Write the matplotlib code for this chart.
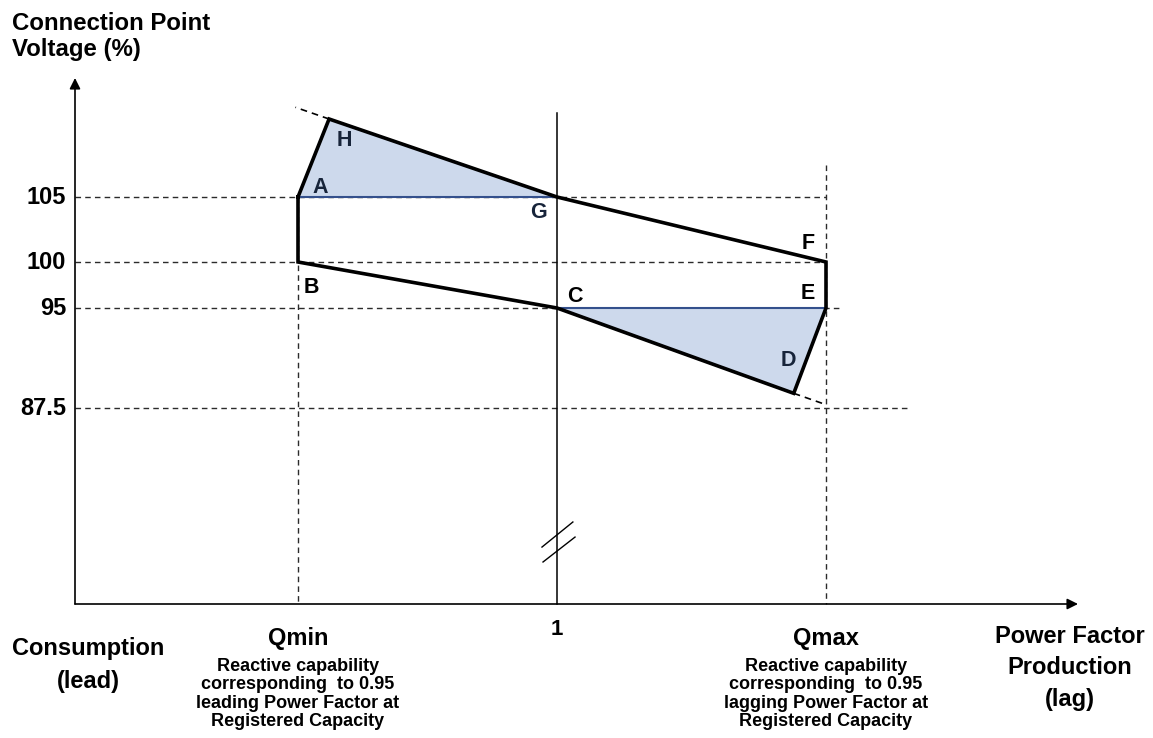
import numpy as np
import matplotlib
matplotlib.use("Agg")
import matplotlib.pyplot as plt

plt.rcParams['font.family'] = ['Liberation Sans', 'DejaVu Sans']
plt.rcParams['font.weight'] = 'bold'

# --- data ---
# voltage levels marked on the vertical axis (%)
v_levels = [105, 100, 95, 87.5]
v_labels = ['105', '100', '95', '87.5']
# how far right each dashed voltage line runs (in Q units)
v_line_end = [1.0, 1.0, 1.05, 1.31]

# reactive power positions: Qmin = -1, unity power factor = 0, Qmax = 1
q_min, q_unity, q_max = -1.0, 0.0, 1.0

# corners of the operating envelope (A -> H -> G -> F -> E -> D -> C -> B)
pt_names = ['A', 'H', 'G', 'F', 'E', 'D', 'C', 'B']
pt_q = [-1.0, -0.88, 0.0, 1.0, 1.0, 0.88, 0.0, -1.0]
pt_v = [105, 111, 105, 100, 95, 88.6, 95, 100]

# shaded triangles
tri_top = ['A', 'H', 'G']
tri_bottom = ['C', 'E', 'D']

# dashed continuations of H-G and C-D
ext_h = (-1.01, 111.9)
ext_d = (1.0, 87.75)

# --- schematic scales (spacing on the drawing is not linear) ---
q_anchor = [-3, -1, 0, 1, 3]
q_pos = [-220, 298, 557, 826, 1364]
v_anchor = [50, 87.5, 95, 100, 105, 130]
v_pos = [-170, 330, 430, 476, 541, 866]


def fwd_x(q):
    return np.interp(q, q_anchor, q_pos)


def inv_x(p):
    return np.interp(p, q_pos, q_anchor)


def fwd_y(v):
    return np.interp(v, v_anchor, v_pos)


def inv_y(p):
    return np.interp(p, v_pos, v_anchor)


W, H = 1153, 738
fig = plt.figure(figsize=(W / 100, H / 100), dpi=100)
ax = fig.add_axes([0, 0, 1, 1])
ax.set_xscale('function', functions=(fwd_x, inv_x))
ax.set_yscale('function', functions=(fwd_y, inv_y))
ax.set_xlim(inv_x(0), inv_x(W))
ax.set_ylim(inv_y(0), inv_y(H))
ax.axis('off')

q_axis = inv_x(75)       # where the voltage axis sits
v_axis = inv_y(H - 604)  # where the power factor axis sits
v_top = inv_y(H - 78)
q_right = inv_x(1078)

dash = (0, (4, 3))
dcol = '#2b2b2b'
fill_col = '#cdd9ec'
edge_col = '#34508c'

# axes with arrows
arrow = dict(arrowstyle='-|>', lw=1.2, color='black', mutation_scale=16,
             shrinkA=0, shrinkB=0)
ax.annotate('', xy=(q_axis, v_top), xytext=(q_axis, v_axis), arrowprops=arrow)
ax.annotate('', xy=(q_right, v_axis), xytext=(q_axis, v_axis), arrowprops=arrow)

# dashed voltage guides and tick labels
for v, lab, end in zip(v_levels, v_labels, v_line_end):
    ax.plot([q_axis, end], [v, v], ls=dash, lw=1, color=dcol)
    ax.annotate(lab, xy=(q_axis, v), xytext=(-6.5, 0), textcoords='offset points',
                ha='right', va='center', fontsize=17, fontweight='bold')

# vertical guides
ax.plot([q_min, q_min], [105, v_axis], ls=dash, lw=1, color=dcol)
ax.plot([q_max, q_max], [107.5, v_axis], ls=dash, lw=1, color=dcol)
ax.plot([q_unity, q_unity], [111.5, v_axis], lw=1.1, color='black')

# axis break marks on the unity line
ax.plot([-0.058, 0.059], [77.07, 78.95], lw=1, color='black')
ax.plot([-0.054, 0.067], [75.95, 77.82], lw=1, color='black')

pts = {n: (q, v) for n, q, v in zip(pt_names, pt_q, pt_v)}

# shaded areas
for tri in (tri_top, tri_bottom):
    ax.fill([pts[n][0] for n in tri], [pts[n][1] for n in tri],
            facecolor=fill_col, edgecolor=edge_col, lw=1.5, zorder=2)

# dashed extensions
ax.plot([pts['H'][0], ext_h[0]], [pts['H'][1], ext_h[1]], ls=dash, lw=1.2, color='black')
ax.plot([pts['D'][0], ext_d[0]], [pts['D'][1], ext_d[1]], ls=dash, lw=1.2, color='black')

# envelope outline
ox = pt_q + [pt_q[0]]
oy = pt_v + [pt_v[0]]
ax.plot(ox, oy, lw=2.6, color='black', solid_joinstyle='miter', zorder=3)

# corner letters (offsets in points)
offsets = {'H': (10.8, -15.8), 'A': (15.8, 7.2), 'G': (-13, -10.8),
           'F': (-13, 13), 'E': (-13, 10.8), 'C': (13, 8.6),
           'B': (9.4, -18), 'D': (-3.6, 23.8)}
for n in pt_names:
    col = '#17243a' if n in ('H', 'A', 'G', 'D') else 'black'
    ax.annotate(n, xy=pts[n], xytext=offsets[n], textcoords='offset points',
                ha='center', va='center', fontsize=15.5, fontweight='bold',
                color=col, zorder=4)

# labels below the horizontal axis
ax.annotate('1', xy=(q_unity, v_axis), xytext=(0, -18.7), textcoords='offset points',
            ha='center', va='center', fontsize=16, fontweight='bold')
for q, name, word in [(q_min, 'Qmin', 'leading'), (q_max, 'Qmax', 'lagging')]:
    ax.annotate(name, xy=(q, v_axis), xytext=(0, -24.5), textcoords='offset points',
                ha='center', va='center', fontsize=17, fontweight='bold')
    ax.annotate('Reactive capability\ncorresponding  to 0.95\n'
                f'{word} Power Factor at\nRegistered Capacity',
                xy=(q, v_axis), xytext=(0, -64.8), textcoords='offset points',
                ha='center', va='center', fontsize=13, fontweight='bold',
                linespacing=1.1)

fig.text(12 / W, 1 - 12 / H, 'Connection Point\nVoltage (%)', ha='left', va='top',
         fontsize=17.3, fontweight='bold', linespacing=1.15)
fig.text(88 / W, 1 - 665 / H, 'Consumption\n(lead)', ha='center', va='center',
         fontsize=17, fontweight='bold', linespacing=1.52)
fig.text(1070 / W, 1 - 668 / H, 'Power Factor\nProduction\n(lag)', ha='center',
         va='center', fontsize=17, fontweight='bold', linespacing=1.45)

fig.savefig('out.png', dpi=100)
